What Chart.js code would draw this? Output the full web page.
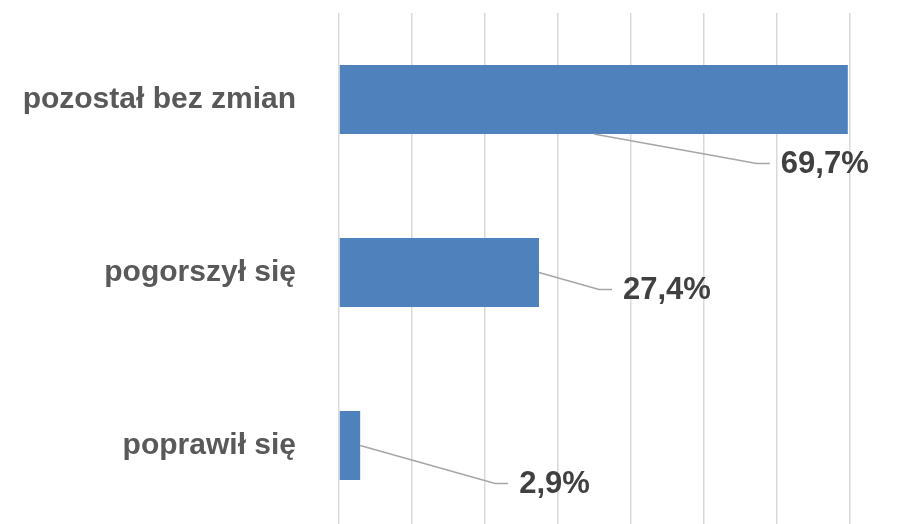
<!DOCTYPE html>
<html>
<head>
<meta charset="utf-8">
<script src="https://cdn.jsdelivr.net/npm/chart.js@4/dist/chart.umd.min.js"></script>
<style>
  html, body { margin: 0; padding: 0; background: #fff; overflow: hidden; }
  #wrap { width: 911px; height: 540px; }
</style>
</head>
<body>
<div id="wrap"><canvas id="chart" width="911" height="540"></canvas></div>
<script>

/* DATA */

const categories = ["pozostał bez zmian", "pogorszył się", "poprawił się"];

const values = [69.7, 27.4, 2.9];

const axisTicks = [0, 10, 20, 30, 40, 50, 60, 70];

/* label placement (dx from bar end, dy from bar centre) */

const labelOffsets = [
    [-67, 64],
    [84, 17],
    [159, 38]
];

/* CALLOUT LABELS */

const calloutPlugin = {
    id: 'callouts',
    afterDatasetsDraw(chart){
        const ctx = chart.ctx;
        const bars = chart.getDatasetMeta(0).data;
        ctx.save();
        bars.forEach((bar, i) => {
            const off = labelOffsets[i];
            const lx = bar.x + off[0];
            const ly = bar.y + off[1];
            const half = bar.height / 2;

            let sx, sy;
            if (lx > bar.x + 20) {
                sx = bar.x;
                sy = bar.y;
            } else {
                sx = (bar.base + bar.x) / 2;
                sy = bar.y + half;
            }

            ctx.strokeStyle = '#a6a6a6';
            ctx.lineWidth = 1.5;
            ctx.beginPath();
            ctx.moveTo(sx, sy);
            ctx.lineTo(lx - 24, ly);
            ctx.lineTo(lx - 11, ly);
            ctx.stroke();

            ctx.fillStyle = '#404040';
            ctx.font = 'bold 31px "Liberation Sans", Arial, sans-serif';
            ctx.textAlign = 'left';
            ctx.textBaseline = 'middle';
            ctx.fillText(values[i].toFixed(1).replace('.', ',') + '%', lx, ly + 1);
        });
        ctx.restore();
    }
};

/* CHART */

const chart = new Chart(document.getElementById('chart'), {

    type: 'bar',

    data: {
        labels: categories,
        datasets: [{
            data: values,
            backgroundColor: '#4f81bd',
            borderWidth: 0,
            categoryPercentage: 0.4,
            barPercentage: 1
        }]
    },

    options: {
        indexAxis: 'y',
        responsive: false,
        animation: false,
        layout: {
            padding: { top: 13, right: 61, bottom: 8, left: 0 }
        },
        plugins: {
            legend: { display: false },
            tooltip: { enabled: false }
        },
        scales: {
            x: {
                min: axisTicks[0],
                max: axisTicks[axisTicks.length - 1],
                afterBuildTicks(scale){
                    scale.ticks = axisTicks.map(v => ({ value: v }));
                },
                ticks: { display: false },
                grid: {
                    color: '#d9d9d9',
                    lineWidth: 1.5,
                    drawTicks: false
                },
                border: { display: false }
            },
            y: {
                afterFit(scale){
                    scale.width = 339;
                    scale.paddingTop = 0;
                    scale.paddingBottom = 0;
                },
                ticks: {
                    color: '#595959',
                    padding: 35,
                    font: {
                        family: '"Liberation Sans", Arial, sans-serif',
                        size: 30,
                        weight: 'bold'
                    }
                },
                grid: { display: false },
                border: { display: false }
            }
        }
    },

    plugins: [calloutPlugin]

});

</script>
</body>
</html>
